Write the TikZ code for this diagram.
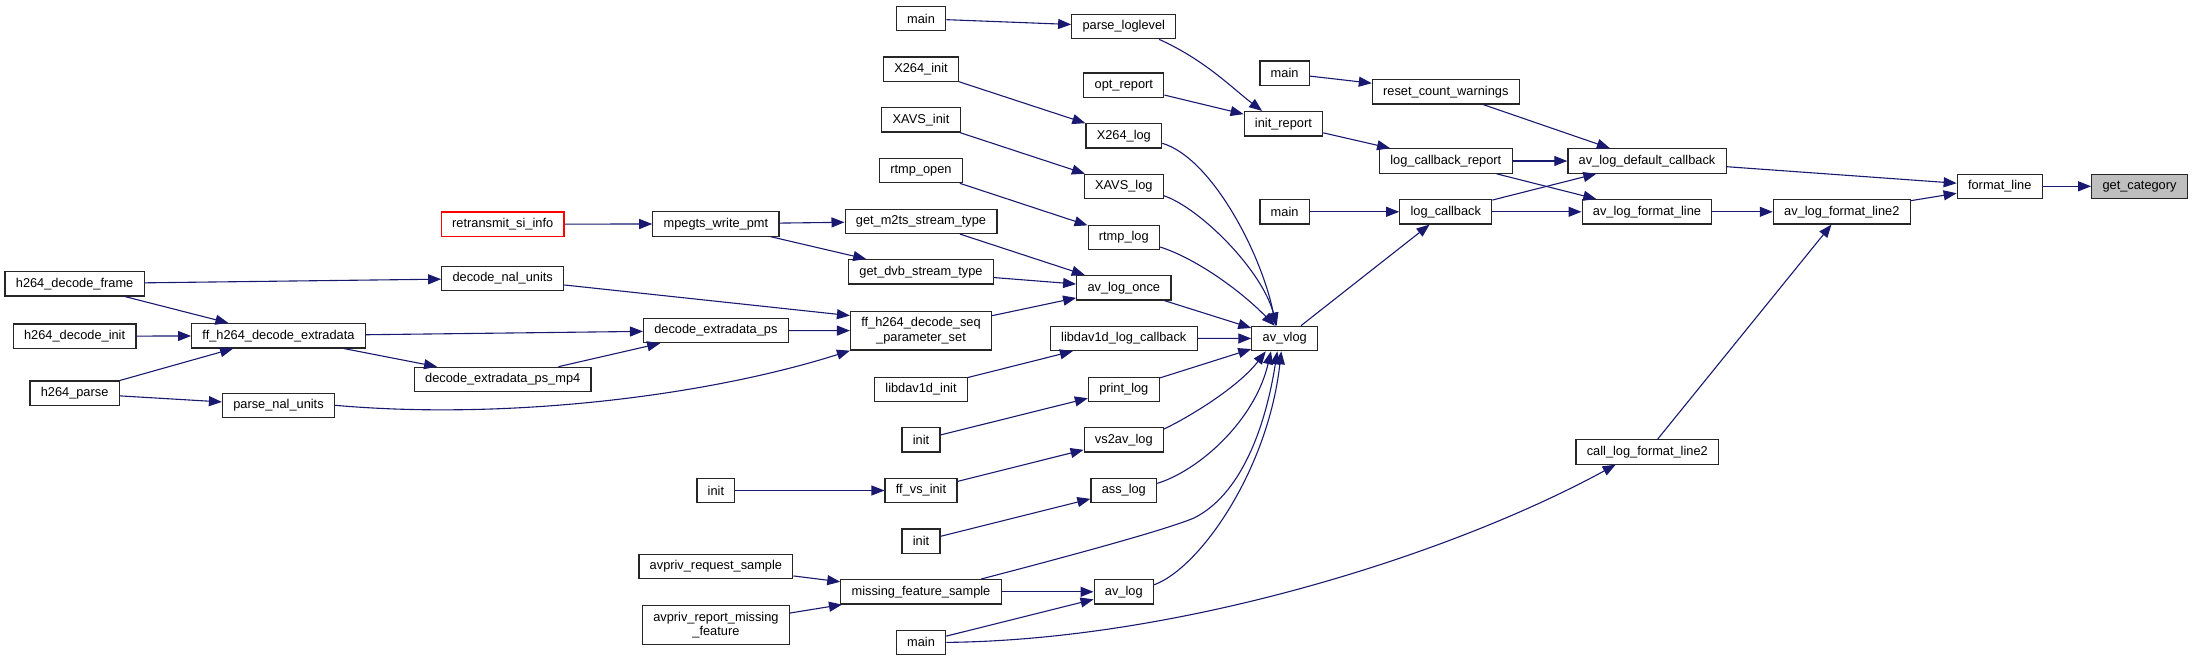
\documentclass[tikz,border=0pt]{standalone}
\usepackage{fontspec}
\setmainfont{Liberation Sans}
\usepackage{tikz}
\usetikzlibrary{arrows.meta}

\definecolor{edgeblue}{RGB}{25,25,112}
\definecolor{rootgray}{RGB}{191,191,191}

\begin{document}
\begin{tikzpicture}[
	x=1pt, y=-1pt,
	every node/.style={draw=black!85, rectangle, line width=1.2pt, fill=white, align=center,
		font=\fontsize{12.8}{14.4}\selectfont, inner xsep=10.8pt, inner ysep=6.2pt, minimum height=24.4pt},
	root/.style={fill=rootgray},
	lost/.style={draw=red},
	call_edge/.style={draw=edgeblue, line width=1.1pt, -{Triangle[length=13pt,width=10pt]}}
	]
	\fill[white] (0,0) rectangle (2193,661);
	\useasboundingbox (0,0) rectangle (2193,661);

	% --- NODES: LEFT PART ---
	\node (hdframe) at (74.6,283.7) {h264\_decode\_frame};
	\node (hdinit) at (74.6,336.2) {h264\_decode\_init};
	\node (hparse) at (74.6,393.2) {h264\_parse};
	\node (ffextra) at (278.5,335.8) {ff\_h264\_decode\_extradata};
	\node (parsenal) at (278.5,405.3) {parse\_nal\_units};
	\node (retrans) [lost] at (502.7,224.2) {retransmit\_si\_info};
	\node (decnal) at (502.7,278.4) {decode\_nal\_units};
	\node (psmp4) at (502.7,379.5) {decode\_extradata\_ps\_mp4};
	\node (pmt) at (715.9,223.9) {mpegts\_write\_pmt};
	\node (extraps) at (715.9,330.5) {decode\_extradata\_ps};
	\node (initvs) at (715.9,490.5) {init};
	\node (reqsample) at (715.9,566.3) {avpriv\_request\_sample};
	\node (repmissing) at (715.9,625) {avpriv\_report\_missing\\\_feature};

	% --- NODES: MIDDLE PART ---
	\node (mainA) at (921,18.7) {main};
	\node (x264init) at (921,69.3) {X264\_init};
	\node (xavsinit) at (921,119.8) {XAVS\_init};
	\node (rtmpopen) at (921,170.5) {rtmp\_open};
	\node (m2ts) at (921,221.3) {get\_m2ts\_stream\_type};
	\node (dvb) at (921,271.8) {get\_dvb\_stream\_type};
	\node (ffsps) at (921,330.7) {ff\_h264\_decode\_seq\\\_parameter\_set};
	\node (dav1dinit) at (921,389.3) {libdav1d\_init};
	\node (initA) at (921,439.8) {init};
	\node (ffvsinit) at (921,490.5) {ff\_vs\_init};
	\node (initB) at (921,541.2) {init};
	\node (missing) at (921,591.8) {missing\_feature\_sample};
	\node (mainD) at (921,642.4) {main};
	\node (loglevel) at (1123.8,26.5) {parse\_loglevel};
	\node (optreport) at (1123.8,85.3) {opt\_report};
	\node (x264log) at (1123.8,135.8) {X264\_log};
	\node (xavslog) at (1123.8,186.5) {XAVS\_log};
	\node (rtmplog) at (1123.8,237.3) {rtmp\_log};
	\node (logonce) at (1123.8,287.8) {av\_log\_once};
	\node (dav1dcb) at (1123.8,338.3) {libdav1d\_log\_callback};
	\node (printlog) at (1123.8,389.3) {print\_log};
	\node (vs2avlog) at (1123.8,439.8) {vs2av\_log};
	\node (asslog) at (1123.8,490.5) {ass\_log};
	\node (avlog) at (1123.8,591.8) {av\_log};

	% --- NODES: RIGHT PART ---
	\node (mainB) at (1284.6,73.2) {main};
	\node (initreport) at (1283.4,123.7) {init\_report};
	\node (mainC) at (1284.6,211.8) {main};
	\node (avvlog) at (1284.7,338.5) {av\_vlog};
	\node (resetcw) at (1445.8,91.7) {reset\_count\_warnings};
	\node (cbreport) at (1445.8,161) {log\_callback\_report};
	\node (logcb) at (1445.8,211.8) {log\_callback};
	\node (defcb) at (1647,161) {av\_log\_default\_callback};
	\node (fmtline) at (1647,211.8) {av\_log\_format\_line};
	\node (callfl2) at (1647.3,451.9) {call\_log\_format\_line2};
	\node (fmtline2) at (1841.8,211.8) {av\_log\_format\_line2};
	\node (formatline) at (1999.7,186.3) {format\_line};
	\node (getcat) [root] at (2139.5,186.3) {get\_category};

	% --- CALLS ---
	\draw[call_edge] (hdframe) -- (decnal);
	\draw[call_edge] (hdframe) -- (ffextra);
	\draw[call_edge] (hdinit) -- (ffextra);
	\draw[call_edge] (hparse) -- (ffextra);
	\draw[call_edge] (hparse) -- (parsenal);
	\draw[call_edge] (ffextra) -- (extraps);
	\draw[call_edge] (ffextra) -- (psmp4);
	\draw[call_edge] (psmp4) -- (extraps);
	\draw[call_edge] (extraps) -- (ffsps);
	\draw[call_edge] (decnal) -- (ffsps.168);
	\draw[call_edge] (parsenal.east) .. controls (500,420) and (700,398) .. (ffsps.south west);
	\draw[call_edge] (retrans) -- (pmt);
	\draw[call_edge] (pmt) -- (m2ts);
	\draw[call_edge] (pmt) -- (dvb);
	\draw[call_edge] (m2ts) -- (logonce);
	\draw[call_edge] (dvb) -- (logonce);
	\draw[call_edge] (ffsps) -- (logonce);
	\draw[call_edge] (mainA) -- (loglevel);
	\draw[call_edge] (x264init) -- (x264log);
	\draw[call_edge] (xavsinit) -- (xavslog);
	\draw[call_edge] (rtmpopen) -- (rtmplog);
	\draw[call_edge] (dav1dinit) -- (dav1dcb);
	\draw[call_edge] (initA) -- (printlog);
	\draw[call_edge] (initvs) -- (ffvsinit);
	\draw[call_edge] (ffvsinit) -- (vs2avlog);
	\draw[call_edge] (initB) -- (asslog);
	\draw[call_edge] (reqsample) -- (missing);
	\draw[call_edge] (repmissing) -- (missing);
	\draw[call_edge] (missing) -- (avlog);
	\draw[call_edge] (mainD) -- (avlog);
	\draw[call_edge] (optreport) -- (initreport);
	\draw[call_edge] (loglevel.-20) .. controls (1205,60) and (1232,88) .. (initreport.149);

	% --- CALLS INTO av_vlog ---
	\draw[call_edge] (x264log.-11) .. controls (1212,158) and (1262,255) .. (avvlog.125);
	\draw[call_edge] (xavslog.-13) .. controls (1200,208) and (1262,270) .. (avvlog.122);
	\draw[call_edge] (rtmplog.-15) .. controls (1195,258) and (1240,290) .. (avvlog.128);
	\draw[call_edge] (logonce) -- (avvlog);
	\draw[call_edge] (dav1dcb) -- (avvlog);
	\draw[call_edge] (printlog) -- (avvlog);
	\draw[call_edge] (vs2avlog.15) .. controls (1195,414) and (1240,385) .. (avvlog.-146);
	\draw[call_edge] (asslog.12) .. controls (1200,470) and (1255,420) .. (avvlog.-137);
	\draw[call_edge] (missing.12) .. controls (1100,548) and (1170,528) .. (1194,518)
		.. controls (1240,495) and (1265,430) .. (avvlog.-120);
	\draw[call_edge] (avlog.13) .. controls (1200,568) and (1268,470) .. (avvlog.-105);

	% --- RIGHT PART ---
	\draw[call_edge] (mainB) -- (resetcw);
	\draw[call_edge] (initreport) -- (cbreport);
	\draw[call_edge] (mainC) -- (logcb);
	\draw[call_edge] (avvlog) -- (logcb);
	\draw[call_edge] (resetcw) -- (defcb);
	\draw[call_edge] (cbreport) -- (defcb);
	\draw[call_edge] (cbreport) -- (fmtline);
	\draw[call_edge] (logcb) -- (defcb);
	\draw[call_edge] (logcb) -- (fmtline);
	\draw[call_edge] (fmtline) -- (fmtline2);
	\draw[call_edge] (mainD.east) .. controls (1180,640) and (1450,555) .. (callfl2.-158);
	\draw[call_edge] (callfl2) -- (fmtline2);
	\draw[call_edge] (defcb) -- (formatline);
	\draw[call_edge] (fmtline2) -- (formatline);
	\draw[call_edge] (formatline) -- (getcat);

\end{tikzpicture}
\end{document}
